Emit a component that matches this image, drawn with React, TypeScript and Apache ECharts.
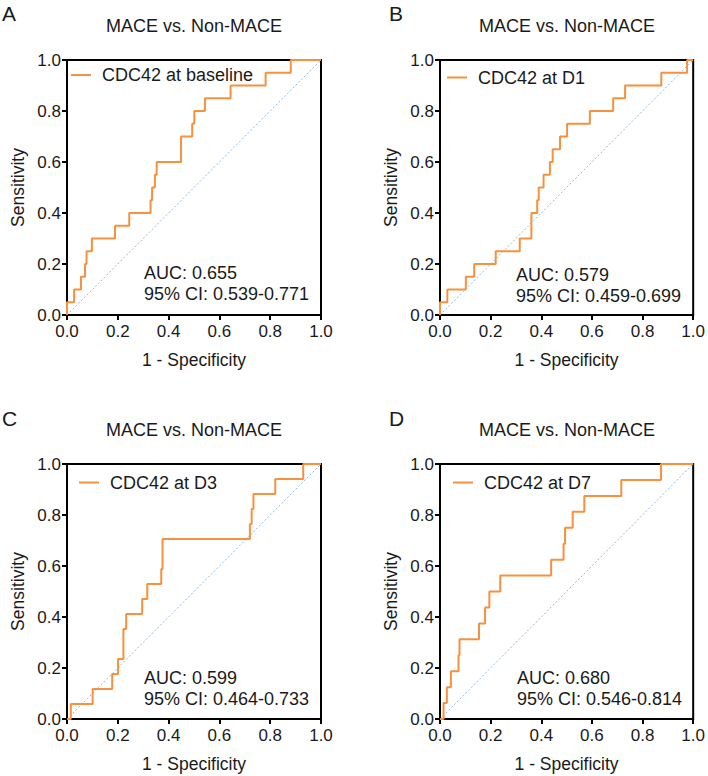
import React, { useEffect, useRef } from "react";
import * as echarts from "echarts";

const panelLetters = ["A", "B", "C", "D"];
const panelTitles = ["MACE vs. Non-MACE", "MACE vs. Non-MACE", "MACE vs. Non-MACE", "MACE vs. Non-MACE"];
const legendNames = ["CDC42 at baseline", "CDC42 at D1", "CDC42 at D3", "CDC42 at D7"];
const aucTexts = ["AUC: 0.655", "AUC: 0.579", "AUC: 0.599", "AUC: 0.680"];
const ciTexts = ["95% CI: 0.539-0.771", "95% CI: 0.459-0.699", "95% CI: 0.464-0.733", "95% CI: 0.546-0.814"];
const xAxisTitle = "1 - Specificity";
const yAxisTitle = "Sensitivity";
const diagonalX = [0, 1];
const diagonalY = [0, 1];

// ROC curve points (1 - specificity, sensitivity)
const fprA = [0, 0, 0.028, 0.028, 0.055, 0.055, 0.071, 0.071, 0.077, 0.077, 0.098, 0.098, 0.189, 0.189, 0.245, 0.245, 0.329, 0.329, 0.335, 0.335, 0.346, 0.346, 0.353, 0.353, 0.449, 0.449, 0.493, 0.493, 0.501, 0.501, 0.543, 0.543, 0.644, 0.644, 0.782, 0.782, 0.881, 0.881, 1];
const tprA = [0, 0.05, 0.05, 0.10, 0.10, 0.15, 0.15, 0.20, 0.20, 0.25, 0.25, 0.30, 0.30, 0.35, 0.35, 0.40, 0.40, 0.45, 0.45, 0.50, 0.50, 0.55, 0.55, 0.60, 0.60, 0.70, 0.70, 0.75, 0.75, 0.80, 0.80, 0.85, 0.85, 0.90, 0.90, 0.95, 0.95, 1, 1];

const fprB = [0, 0, 0.029, 0.029, 0.102, 0.102, 0.135, 0.135, 0.220, 0.220, 0.315, 0.315, 0.361, 0.361, 0.384, 0.384, 0.390, 0.390, 0.409, 0.409, 0.434, 0.434, 0.445, 0.445, 0.474, 0.474, 0.502, 0.502, 0.592, 0.592, 0.684, 0.684, 0.731, 0.731, 0.874, 0.874, 0.976, 0.976, 1];
const tprB = [0, 0.05, 0.05, 0.10, 0.10, 0.15, 0.15, 0.20, 0.20, 0.25, 0.25, 0.30, 0.30, 0.40, 0.40, 0.45, 0.45, 0.50, 0.50, 0.55, 0.55, 0.60, 0.60, 0.65, 0.65, 0.70, 0.70, 0.75, 0.75, 0.80, 0.80, 0.85, 0.85, 0.90, 0.90, 0.95, 0.95, 1, 1];

const fprC = [0, 0.015, 0.015, 0.101, 0.101, 0.178, 0.178, 0.201, 0.201, 0.222, 0.222, 0.233, 0.233, 0.296, 0.296, 0.316, 0.316, 0.371, 0.371, 0.376, 0.376, 0.720, 0.720, 0.727, 0.727, 0.734, 0.734, 0.820, 0.820, 0.930, 0.930, 1];
const tprC = [0, 0, 0.059, 0.059, 0.118, 0.118, 0.176, 0.176, 0.235, 0.235, 0.353, 0.353, 0.412, 0.412, 0.471, 0.471, 0.529, 0.529, 0.588, 0.588, 0.706, 0.706, 0.765, 0.765, 0.824, 0.824, 0.882, 0.882, 0.941, 0.941, 1, 1];

const fprD = [0, 0.014, 0.014, 0.027, 0.027, 0.043, 0.043, 0.073, 0.073, 0.077, 0.077, 0.154, 0.154, 0.178, 0.178, 0.195, 0.195, 0.238, 0.238, 0.439, 0.439, 0.488, 0.488, 0.494, 0.494, 0.524, 0.524, 0.570, 0.570, 0.716, 0.716, 0.873, 0.873, 1];
const tprD = [0, 0, 0.0625, 0.0625, 0.125, 0.125, 0.1875, 0.1875, 0.25, 0.25, 0.3125, 0.3125, 0.375, 0.375, 0.4375, 0.4375, 0.5, 0.5, 0.5625, 0.5625, 0.625, 0.625, 0.6875, 0.6875, 0.75, 0.75, 0.8125, 0.8125, 0.875, 0.875, 0.9375, 0.9375, 1, 1];

const fprs = [fprA, fprB, fprC, fprD];
const tprs = [tprA, tprB, tprC, tprD];

// layout
const gridLeft = [67, 440, 67, 440];
const gridTop = [60, 60, 464, 464];
const gridW = 254;
const gridH = 255;
const legendLeft = [71, 447, 79, 453];
const legendMid = [75, 77.5, 482.5, 482.5];
const letterX = [2, 389, 2, 389];
const letterY = [13, 13, 418, 418];
const aucX = [144, 516, 144, 517];
const aucY1 = [273, 275, 678, 678];
const aucY2 = [294, 296, 699, 699];

const FONT = "'Liberation Sans', Arial, Helvetica, sans-serif";
const TXT = "#1a1a1a";
const ORANGE = "#F7913D";
const BLUE = "#8DB8E8";

export default function App() {
  const ref = useRef<HTMLDivElement>(null);
  useEffect(() => {
    if (!ref.current) return;
    const chart = echarts.init(ref.current, null, { renderer: "svg" });
    const grids: any[] = [];
    const xAxes: any[] = [];
    const yAxes: any[] = [];
    const series: any[] = [];
    const legends: any[] = [];
    const graphics: any[] = [];
    for (let i = 0; i < 4; i++) {
      grids.push({
        left: gridLeft[i], top: gridTop[i], width: gridW, height: gridH,
        show: true, borderColor: "#000", borderWidth: 2, backgroundColor: "transparent",
      });
      const axisCommon = {
        type: "value", min: 0, max: 1, interval: 0.2, gridIndex: i,
        axisLine: { show: true, lineStyle: { color: "#000", width: 2 } },
        axisTick: { show: true, length: 5, lineStyle: { color: "#000", width: 2 } },
        splitLine: { show: false },
        axisLabel: { color: TXT, fontSize: 17, fontFamily: FONT, formatter: (v: number) => v.toFixed(1) },
        nameLocation: "middle",
        nameTextStyle: { color: TXT, fontSize: 17.5, fontFamily: FONT },
      };
      xAxes.push({ ...axisCommon, name: xAxisTitle, nameGap: 36, axisLabel: { ...axisCommon.axisLabel, margin: 8 } });
      yAxes.push({ ...axisCommon, name: yAxisTitle, nameGap: 40, axisLabel: { ...axisCommon.axisLabel, margin: 6 } });
      series.push({
        name: "reference-" + i, type: "line", xAxisIndex: i, yAxisIndex: i,
        data: diagonalX.map((x, k) => [x, diagonalY[k]]),
        showSymbol: false, silent: true,
        lineStyle: { color: BLUE, width: 1, type: [2, 2] }, z: 1,
      });
      series.push({
        name: legendNames[i], type: "line", xAxisIndex: i, yAxisIndex: i,
        data: fprs[i].map((x, k) => [x, tprs[i][k]]),
        showSymbol: false, silent: true, color: ORANGE,
        lineStyle: { color: ORANGE, width: 2 }, z: 3,
      });
      legends.push({
        data: [{ name: legendNames[i], icon: "rect" }],
        left: legendLeft[i], top: legendMid[i] - 9, padding: 0,
        itemWidth: 20, itemHeight: 2, selectedMode: false,
        textStyle: { color: TXT, fontSize: 18, fontFamily: FONT, padding: [0, 0, 0, 6] },
      });
      graphics.push({
        type: "text", x: letterX[i], y: letterY[i],
        style: { text: panelLetters[i], fill: TXT, font: `21px ${FONT}`, align: "left", verticalAlign: "middle" },
      });
      graphics.push({
        type: "text", x: gridLeft[i] + gridW / 2, y: gridTop[i] - 34,
        style: { text: panelTitles[i], fill: TXT, font: `18px ${FONT}`, align: "center", verticalAlign: "middle" },
      });
      graphics.push({
        type: "text", x: aucX[i], y: aucY1[i],
        style: { text: aucTexts[i], fill: TXT, font: `18px ${FONT}`, align: "left", verticalAlign: "middle" },
      });
      graphics.push({
        type: "text", x: aucX[i], y: aucY2[i],
        style: { text: ciTexts[i], fill: TXT, font: `18px ${FONT}`, align: "left", verticalAlign: "middle" },
      });
    }
    chart.setOption({
      animation: false,
      backgroundColor: "#fff",
      grid: grids, xAxis: xAxes, yAxis: yAxes, series, legend: legends, graphic: graphics,
    });
    return () => chart.dispose();
  }, []);
  return <div ref={ref} style={{ position: "absolute", left: 0, top: 0, width: 708, height: 776 }} />;
}
